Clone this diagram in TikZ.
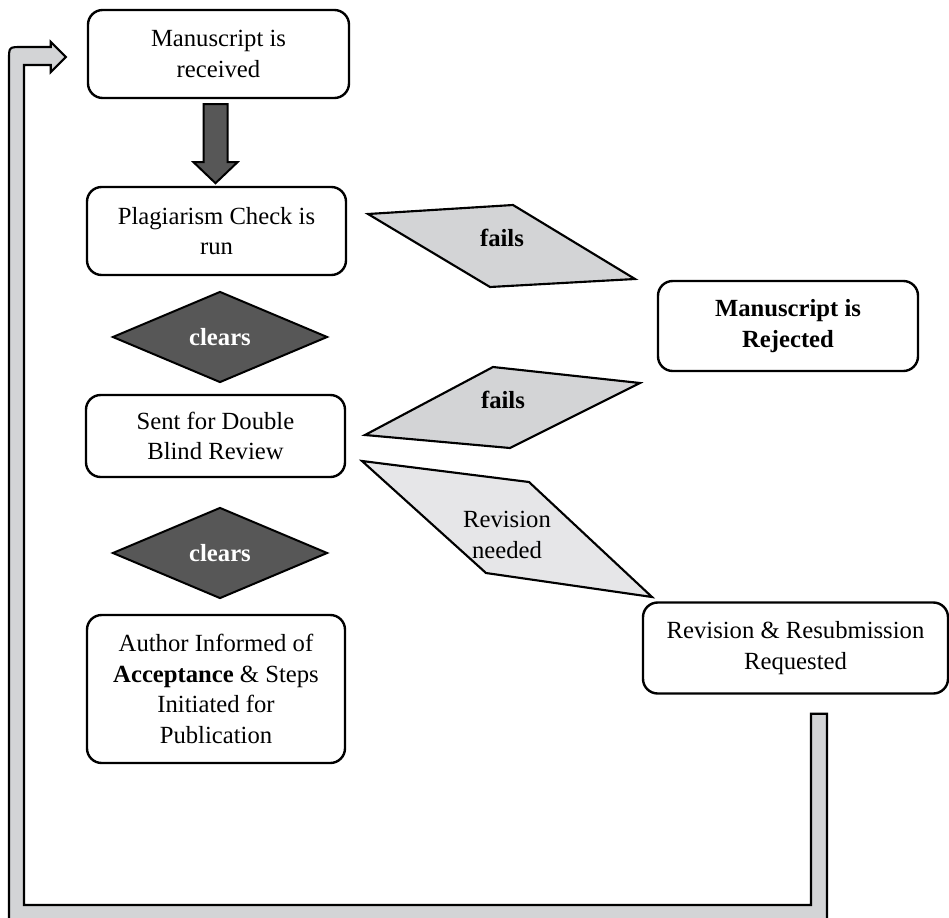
\documentclass[tikz,border=0pt]{standalone}
\usepackage{fontspec}
\setmainfont{Liberation Serif}
\usepackage{xcolor}
\usetikzlibrary{positioning,shapes.geometric,calc}
\definecolor{darkg}{RGB}{87,87,87}
\definecolor{flapg}{RGB}{211,212,214}
\definecolor{paleg}{RGB}{230,230,232}

\begin{document}
\begin{tikzpicture}[x=0.75pt,y=-0.75pt,
  every node/.style={font=\fontsize{18.5}{23}\selectfont,align=center,inner sep=0pt},
  box/.style={draw,line width=1.8pt,rounded corners=11pt,fill=white},
  clr/.style={diamond,draw,line width=1.5pt,fill=darkg,text=white,
    font=\fontsize{18.5}{23}\selectfont\bfseries,
    minimum width=215*0.75pt,minimum height=91*0.75pt},
  flap/.style={draw,line width=1.6pt,fill=flapg},
  back/.style={draw,line width=1.6pt,fill=flapg}]
  \useasboundingbox (0,0) rectangle (949,917);
  \clip (0,0) rectangle (949,917);
  % boxes
  \node[box,minimum width=261*0.75pt,minimum height=88*0.75pt] (recv) at (218.5,54) {Manuscript is\\received};
  \node[box,minimum width=259*0.75pt,minimum height=88*0.75pt] (plag) at (216.5,231) {Plagiarism Check is\\run};
  \node[clr] (clr1) at (220,337) {clears};
  \node[box,minimum width=259*0.75pt,minimum height=82*0.75pt] (blind) at (215.5,436) {Sent for Double\\Blind Review};
  \node[clr] (clr2) at (220,553) {clears};
  \node[box,minimum width=258*0.75pt,minimum height=148*0.75pt] (accept) at (216,689)
    {Author Informed of\\\textbf{Acceptance} \& Steps\\Initiated for\\Publication};
  \node[box,minimum width=260*0.75pt,minimum height=90*0.75pt] (reject) at (788,326)
    {\textbf{Manuscript is}\\\textbf{Rejected}};
  \node[box,minimum width=305*0.75pt,minimum height=91*0.75pt] (revreq) at (795.5,648)
    {Revision \& Resubmission\\Requested};
  % down arrow
  \draw[line width=1.5pt,fill=darkg] ($(recv.south)+(-15,5)$) -- ++(0,58) -- ++(-10,0)
    -- ++(22,21) -- ++(22,-21) -- ++(-10,0) -- ++(0,-58) -- cycle;
  % outcome flaps
  \draw[flap] (368,214) -- (513,205) -- (635,279) -- (490,287) -- cycle;
  \node[font=\fontsize{18.5}{23}\selectfont\bfseries] (fail1) at (502,238) {fails};
  \draw[flap] (493,367) -- (640,383) -- (510,448) -- (365,435) -- cycle;
  \node[font=\fontsize{18.5}{23}\selectfont\bfseries] (fail2) at (503,400) {fails};
  \draw[flap,fill=paleg] (362,461) -- (529,482) -- (652,597) -- (486,573) -- cycle;
  \node (revneed) at (507,535) {Revision\\needed};
  % return arrow
  \coordinate (tail) at ($(revreq.south)+(15.5,19)$);
  \coordinate (tip) at ($(recv.west)+(-21,3)$);
  \draw[back] (tail) -- ++(16,0) -- ++(0,218) -- (9,930) -- (9,60) .. controls (9,47) .. (22,47)
    -- ($(tip)+(-15,-10)$) -- ++(0,-5) -- (tip) -- ++(-15,15) -- ++(0,-7)
    -- (24,65) -- (24,905) -- (811,905) -- cycle;
\end{tikzpicture}
\end{document}
